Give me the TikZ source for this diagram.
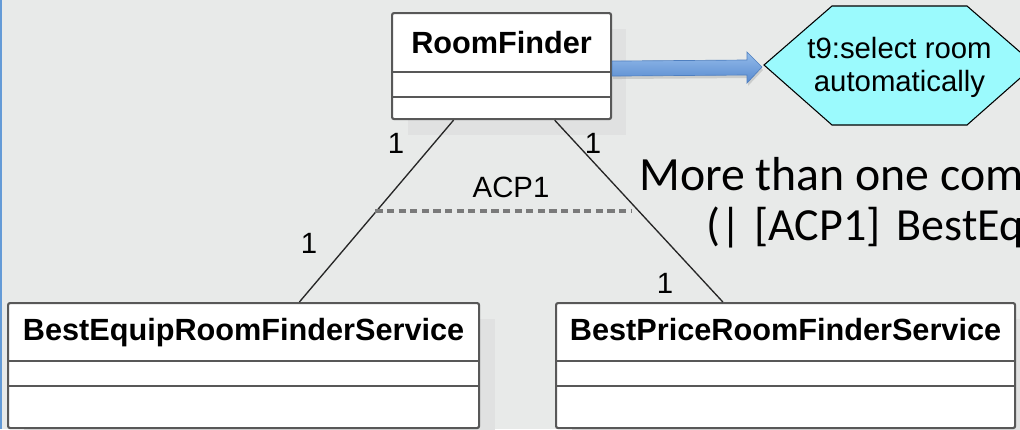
\documentclass[tikz,border=0pt]{standalone}
\usepackage{fontspec}
\setmainfont{Liberation Sans}
\newfontfamily\slidefont{Carlito}
\usetikzlibrary{calc}

\definecolor{slidebg}{RGB}{232,234,233}
\definecolor{shadowgray}{RGB}{224,225,225}
\definecolor{umlline}{RGB}{88,88,88}
\definecolor{edgeblue}{RGB}{100,155,215}
\definecolor{hexfill}{RGB}{155,250,253}
\definecolor{arrowtop}{RGB}{148,188,234}
\definecolor{arrowbot}{RGB}{88,138,208}
\definecolor{arrowedge}{RGB}{80,128,192}
\definecolor{acpdash}{RGB}{122,122,122}

\tikzset{
  umlbox/.style={draw=umlline, line width=1.6pt, fill=white, rounded corners=1.5pt,
                 inner sep=0pt, anchor=north west},
  umlsep/.style={draw=umlline, line width=1.6pt},
  shadowbox/.style={fill=shadowgray, draw=none},
  umltitle/.style={font=\fontsize{23}{27}\selectfont\bfseries, anchor=base, inner sep=0pt},
  mult/.style={font=\fontsize{22}{26}\selectfont, inner sep=0pt},
  assoc/.style={draw=black!85, line width=1pt},
  constraint/.style={draw=acpdash, line width=2.4pt, dash pattern=on 5.3pt off 3.4pt},
  slidetext/.style={font=\slidefont\fontsize{34.5}{41}\selectfont, anchor=base west, inner sep=0pt},
  blockarrow/.style={top color=arrowtop, bottom color=arrowbot, draw=arrowedge, line width=0.5pt},
  taskhex/.style={fill=hexfill, draw=black, line width=0.8pt},
}

\begin{document}
\begin{tikzpicture}[x=0.75pt, y=-0.75pt]
\useasboundingbox (0,0) rectangle (1020,429);
\clip (0,0) rectangle (1020,429);

% slide background and left edge
\fill[slidebg] (0,0) rectangle (1020,429);
\fill[edgeblue] (0,0) rectangle (1.5,429);

% drop shadows of the class boxes
\fill[shadowbox] (408,29) rectangle (626,135);
\fill[shadowbox] (24,319) rectangle (495,446);
\fill[shadowbox] (572,319) rectangle (1031,446);

% class boxes
\node[umlbox, minimum width=219*0.75pt, minimum height=106*0.75pt] (rf) at (391,12) {};
\node[umlbox, minimum width=471*0.75pt, minimum height=125*0.75pt] (eq) at (7,302) {};
\node[umlbox, minimum width=459*0.75pt, minimum height=125*0.75pt] (pr) at (555,302) {};

% compartment separators
\draw[umlsep] ($(rf.north west)+(0,60)$) -- ($(rf.north east)+(0,60)$);
\draw[umlsep] ($(rf.north west)+(0,85)$) -- ($(rf.north east)+(0,85)$);
\draw[umlsep] ($(eq.north west)+(0,59)$) -- ($(eq.north east)+(0,59)$);
\draw[umlsep] ($(eq.north west)+(0,84)$) -- ($(eq.north east)+(0,84)$);
\draw[umlsep] ($(pr.north west)+(0,59)$) -- ($(pr.north east)+(0,59)$);
\draw[umlsep] ($(pr.north west)+(0,84)$) -- ($(pr.north east)+(0,84)$);

% class names
\node[umltitle] (rfname) at ($(rf.north)+(0,41)$) {RoomFinder};
\node[umltitle] (eqname) at ($(eq.north)+(0,38)$) {BestEquipRoomFinderService};
\node[umltitle] (prname) at ($(pr.north)+(0,38)$) {BestPriceRoomFinderService};

% associations
\coordinate (rfL) at ($(rf.south west)!0.283!(rf.south east)$);
\coordinate (rfR) at ($(rf.south west)!0.740!(rf.south east)$);
\coordinate (eqT) at ($(eq.north west)!0.618!(eq.north east)$);
\coordinate (prT) at ($(pr.north west)!0.364!(pr.north east)$);
\draw[assoc] (rfL) -- coordinate[pos=0.5] (mL) (eqT);
\draw[assoc] (rfR) -- coordinate[pos=0.5] (mR) (prT);

% alternative constraint between the two associations
\draw[constraint] ($(mL)+(-1,0)$) -- ($(mR)+(-8,0)$);
\node[mult, anchor=base] (acp) at (511,197) {ACP1};

% multiplicities
\node[mult] (m1) at (396,143) {1};
\node[mult] (m2) at (593,143) {1};
\node[mult] (m3) at (309,243) {1};
\node[mult] (m4) at (665,283) {1};

% task hexagon
\coordinate (hexW) at (764,65);
\draw[taskhex] (hexW) -- (832,6) -- (967,6) -- (1035,65) -- (967,125) -- (832,125) -- cycle;
\node[mult, align=center, font=\fontsize{22}{24.75}\selectfont] (hex) at (899.5,67)
  {t9:select room\\automatically};

% block arrow from the class to the task
\fill[black, opacity=0.12]
  ($(rf.east)+(1,-2)$) -- ($(hexW)+(-16,-2)$) -- ($(hexW)+(-16,-10)$) -- ($(hexW)+(-1,5)$)
  -- ($(hexW)+(-16,21)$) -- ($(hexW)+(-16,13)$) -- ($(rf.east)+(1,13)$) -- cycle;
\path[blockarrow]
  ($(rf.east)+(0,-5)$) -- ($(hexW)+(-17,-5)$) -- ($(hexW)+(-17,-13)$) -- ($(hexW)+(-2,2)$)
  -- ($(hexW)+(-17,18)$) -- ($(hexW)+(-17,10)$) -- ($(rf.east)+(0,10)$) -- cycle;

% slide text, running past the right edge of the slide
\node[slidetext, font=\slidefont\fontsize{35.8}{41}\selectfont] (note1) at (639,190) {More than one com};
\node[slidetext] (note2) at (706,240) {(|\kern0.06em{} [ACP1]\kern0.12em{} BestEq};
\end{tikzpicture}
\end{document}
